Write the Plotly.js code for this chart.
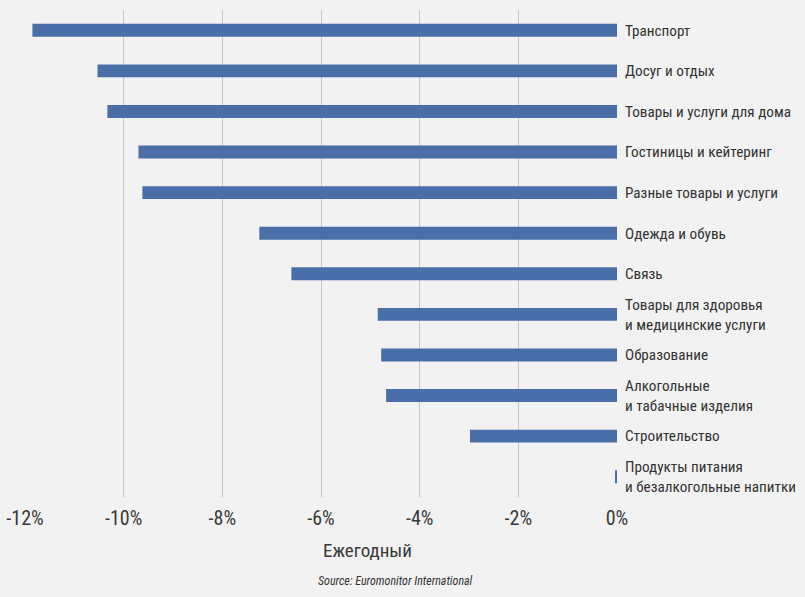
<!DOCTYPE html>
<html><head><meta charset="utf-8">
<script src="https://cdn.plot.ly/plotly-3.0.1.min.js"></script>
<style>html,body{margin:0;padding:0;background:#f2f2f2;}</style>
</head><body>
<div id="chart" style="width:805px;height:597px;"></div>
<script>
var categories = [
  "Транспорт",
  "Досуг и отдых",
  "Товары и услуги для дома",
  "Гостиницы и кейтеринг",
  "Разные товары и услуги",
  "Одежда и обувь",
  "Связь",
  "Товары для здоровья<br>и медицинские услуги",
  "Образование",
  "Алкогольные<br>и табачные изделия",
  "Строительство",
  "Продукты питания<br>и безалкогольные напитки"
];
var values = [-11.85, -10.53, -10.33, -9.70, -9.62, -7.25, -6.60, -4.85, -4.78, -4.68, -2.98, -0.04];
var tickVals = [-12, -10, -8, -6, -4, -2, 0];
var tickText = ["-12%", "-10%", "-8%", "-6%", "-4%", "-2%", "0%"];
var axisTitle = "Ежегодный";
var sourceText = "Source: Euromonitor International";

var FONT = '"Roboto Condensed", "Liberation Sans", sans-serif';

var trace = {
  type: 'bar', orientation: 'h',
  x: values, y: categories,
  width: 0.32,
  marker: {color: '#4a6ea8'},
  hoverinfo: 'x+y'
};

var layout = {
  width: 805, height: 597,
  paper_bgcolor: '#f2f2f2', plot_bgcolor: '#f2f2f2',
  margin: {l: 25, r: 188, t: 10, b: 100},
  showlegend: false,
  font: {family: FONT, color: '#333333'},
  xaxis: {
    range: [-12, 0], tickvals: tickVals, ticktext: tickText,
    showgrid: true, gridcolor: '#c6c6c6', gridwidth: 1,
    zeroline: false, showline: false, ticks: '',
    tickfont: {size: 20, color: '#3a3a3a', family: FONT},
    ticklabelstandoff: 7
  },
  yaxis: {
    type: 'category', autorange: 'reversed', side: 'right',
    showgrid: false, zeroline: false, showline: false, ticks: '',
    tickfont: {size: 15.2, color: '#333333', family: FONT},
    ticklabelstandoff: 7
  },
  annotations: [
    {text: axisTitle, xref: 'paper', yref: 'paper', x: 0.579, y: -0.109,
     xanchor: 'center', yanchor: 'middle', showarrow: false,
     font: {size: 19, color: '#3a3a3a', family: FONT}},
    {text: '<i>' + sourceText + '</i>', xref: 'paper', yref: 'paper', x: 0.625, y: -0.172,
     xanchor: 'center', yanchor: 'middle', showarrow: false,
     font: {size: 12, color: '#333333', family: FONT}}
  ]
};

Plotly.newPlot('chart', [trace], layout, {displayModeBar: false, staticPlot: true});
</script>
</body></html>
